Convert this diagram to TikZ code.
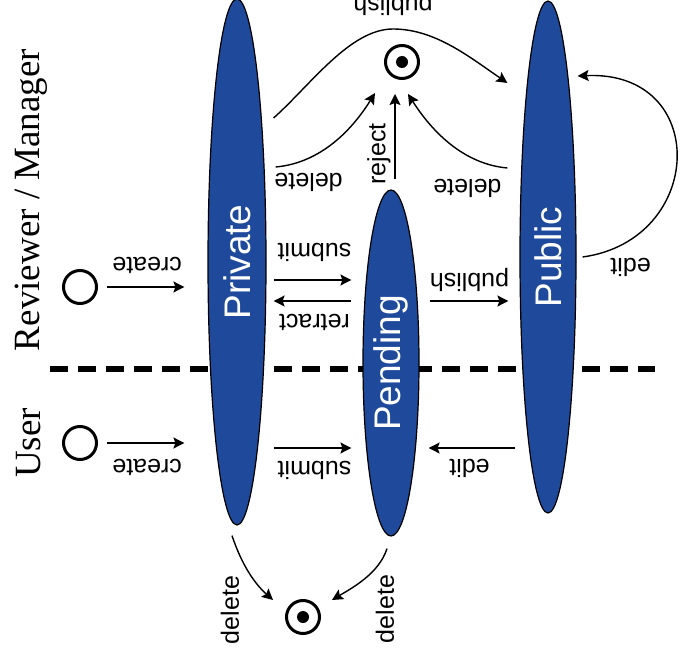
\documentclass[tikz,border=0pt]{standalone}
\usepackage{fontspec}
\setmainfont{Liberation Serif}
\setsansfont{Liberation Sans}
\usepackage{graphicx}
\usepackage{tikz}
\usetikzlibrary{arrows.meta,shapes.geometric}
\definecolor{stateblue}{RGB}{31,74,156}

\begin{document}
\begin{tikzpicture}[x=1pt, y=-1pt,
        state/.style={ellipse, draw=black, line width=1.2pt, fill=stateblue, inner sep=0pt, text=white, font=\sffamily\fontsize{37}{40}\selectfont},
        startstate/.style={circle, draw, line width=3pt, minimum size=33pt, inner sep=0pt},
        endstate/.style={startstate, path picture={\fill (path picture bounding box.center) circle (6pt);}},
        arr/.style={-{Stealth[length=11pt, width=11pt, inset=2pt]}, line width=1.4pt},
        lblflip/.style={font=\sffamily\fontsize{25}{28}\selectfont, inner sep=0pt, rotate=180},
        lblup/.style={font=\sffamily\fontsize{25}{28}\selectfont, inner sep=0pt, rotate=90},
        lane/.style={font=\fontsize{37}{40}\selectfont, inner sep=0pt, rotate=90}]
        \useasboundingbox (0,0) rectangle (680,663);

        % Swimlane separator
        \draw[line width=6pt, dash pattern=on 18pt off 10pt] (50,369) -- (655,369);
        \node[lane] (reviewer) at (31,200) {Reviewer / Manager};
        \node[lane] (user) at (29,443) {User};

        % Define states
        \node[state, minimum width=58pt, minimum height=526pt] (private) at (237,262) {\rotatebox{90}{Private}};
        \node[state, minimum width=56pt, minimum height=346pt] (pending) at (391,363) {\rotatebox{90}{Pending}};
        \node[state, minimum width=56pt, minimum height=512pt] (public) at (548,257) {\rotatebox{90}{Public}};

        % Start and end points
        \node[startstate] (rvstart) at (80,287) {};
        \node[startstate] (usstart) at (80,443) {};
        \node[endstate] (topend) at (402,62) {};
        \node[endstate] (botend) at (303,617) {};

        % Reviewer / Manager lane
        \draw[arr, shorten <=9pt, shorten >=23pt] (rvstart) -- (rvstart -| private.west) node[pos=0.45, yshift=22pt, lblflip] {create};
        \draw[arr, shorten <=7pt, shorten >=11pt] (private.east |- 0,280) -- (pending.west |- 0,280) node[midway, yshift=28pt, lblflip] {submit};
        \draw[arr, shorten <=11pt, shorten >=7pt] (pending.west |- 0,301) -- (private.east |- 0,301) node[midway, yshift=-21pt, lblflip] {retract};
        \draw[arr, shorten <=10pt, shorten >=11pt] (pending.east |- 0,301) -- (public.west |- 0,301) node[midway, yshift=21pt, lblflip] {publish};

        % User lane
        \draw[arr, shorten <=9pt, shorten >=23pt] (usstart) -- (usstart -| private.west) node[pos=0.45, yshift=-24pt, lblflip] {create};
        \draw[arr, shorten <=7pt, shorten >=11pt] (private.east |- 0,448) -- (pending.west |- 0,448) node[midway, yshift=-22pt, lblflip] {submit};
        \draw[arr, shorten <=4pt, shorten >=9pt] (public.west |- 0,448) -- (pending.east |- 0,448) node[midway, yshift=-20pt, lblflip] {edit};

        % Curved transitions at the top
        \draw[arr] ([shift={(7,-144)}]private.east) .. controls +(37,-33) and +(-43,0) .. ([shift={(-9,-33)}]topend.center) node[yshift=25pt, lblflip] {publish}
            .. controls +(42,0) and +(-38,-26) .. ([shift={(-12,-174)}]public.west);
        \draw[arr] ([shift={(9,-95)}]private.east) .. controls +(45,-4) and +(-23,37) .. ([shift={(-27,31)}]topend.center) node[at start, xshift=33pt, yshift=-15pt, lblflip] {delete};
        \draw[arr] ([shift={(4,-10)}]pending.north) -- ([shift={(-7,14)}]topend.south) node[pos=0.3, xshift=-16pt, lblup] {reject};
        \draw[arr] ([shift={(-12,-89)}]public.west) .. controls +(-45,-4) and +(23,36) .. ([shift={(6,32)}]topend.center) node[at start, xshift=-40pt, yshift=-20pt, lblflip] {delete};
        \draw[arr] ([shift={(6,0)}]public.east) .. controls +(123,-17) and +(133,-6) .. ([shift={(1,-181)}]public.east) node[at start, xshift=48pt, yshift=-10pt, lblflip] {edit};

        % Deleting at the bottom
        \draw[arr] ([shift={(-5,10)}]private.south) .. controls +(10,30) and +(-18,-16) .. ([shift={(-30,-17)}]botend.center) node[xshift=-43pt, yshift=-10pt, lblup] {delete};
        \draw[arr] ([shift={(-4,12)}]pending.south) .. controls +(-8,25) and +(20,-12) .. ([shift={(29,-17)}]botend.center) node[xshift=53pt, yshift=-9pt, lblup] {delete};

    \end{tikzpicture}
\end{document}
